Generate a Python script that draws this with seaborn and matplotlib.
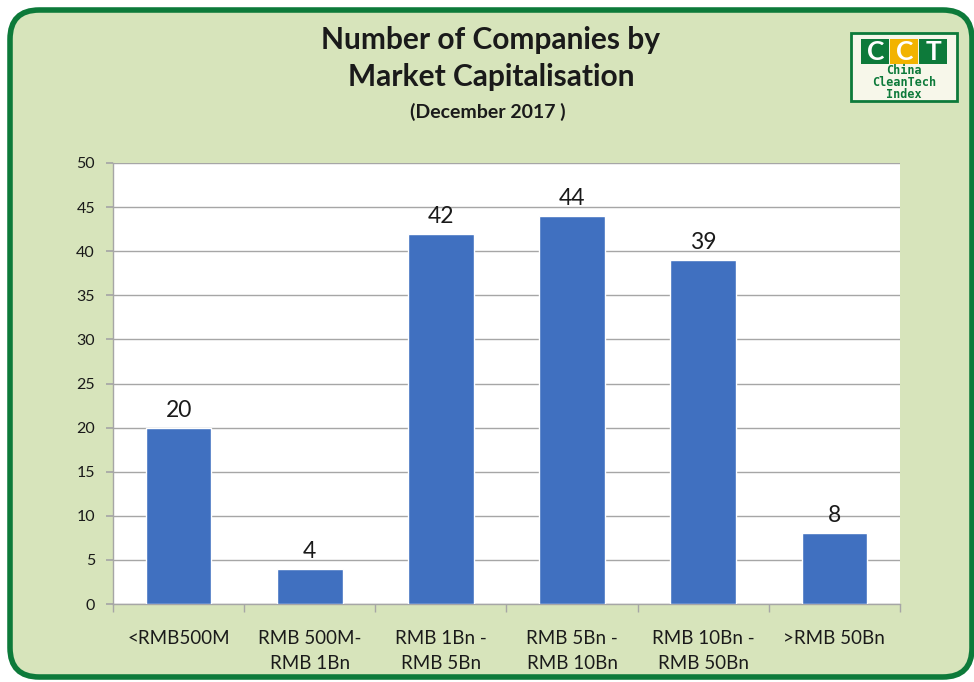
import matplotlib
matplotlib.use("Agg")
import matplotlib.pyplot as plt
import seaborn as sns
import pandas as pd
from matplotlib.patches import FancyBboxPatch, Rectangle

categories = ["<RMB500M", "RMB 500M-\nRMB 1Bn", "RMB 1Bn -\nRMB 5Bn",
              "RMB 5Bn -\nRMB 10Bn", "RMB 10Bn -\nRMB 50Bn", ">RMB 50Bn"]
counts = [20, 4, 42, 44, 39, 8]
yticks = [0, 5, 10, 15, 20, 25, 30, 35, 40, 45, 50]

sns.set_theme(style="white")
plt.rcParams['font.family'] = ['Lato', 'DejaVu Sans']

W, H = 974, 682
fig = plt.figure(figsize=(W / 100, H / 100), dpi=100)
bg = "#d7e4bb"
fig.patch.set_facecolor("white")

# rounded green frame
frame = FancyBboxPatch((10 / W, 5 / H), 962 / W, 667 / H,
                       boxstyle="round,pad=0,rounding_size=0.03",
                       transform=fig.transFigure, facecolor=bg,
                       edgecolor="#0d7a3a", linewidth=4, zorder=-5,
                       mutation_aspect=W / H)
fig.patches.append(frame)

ax = fig.add_axes([113 / W, 1 - 604 / H, (900 - 113) / W, (604 - 163) / H])
ax.set_zorder(2)
df = pd.DataFrame({"cat": categories, "n": counts})
sns.barplot(data=df, x="cat", y="n", color="#4070c0", saturation=1,
            width=0.5, ax=ax, zorder=3)
ax.set_facecolor("white")
ax.set_ylim(0, 50)
ax.set_xlim(-0.5, len(categories) - 0.5)
ax.set_yticks(yticks)
ax.yaxis.grid(True, color="#a6a6a6", linewidth=1, zorder=0)
ax.set_axisbelow(True)
ax.set_xlabel("")
ax.set_ylabel("")
for s in ["top", "right"]:
    ax.spines[s].set_visible(False)
for s in ["left", "bottom"]:
    ax.spines[s].set_color("#a6a6a6")
    ax.spines[s].set_linewidth(1)
ax.tick_params(axis="y", length=5, color="#a6a6a6", labelsize=11.5, labelcolor="#1a1a1a", left=True, pad=8)
ax.tick_params(axis="x", length=0, labelsize=13.5, labelcolor="#1a1a1a", pad=19)
ax.set_xticks(range(len(categories)), categories, fontsize=13.5, linespacing=1.55)
ax.set_xticks([i + 0.5 for i in range(-1, len(categories))], minor=True)
ax.tick_params(axis="x", which="minor", length=6, color="#a6a6a6", bottom=True)

for i, v in enumerate(counts):
    ax.text(i, v + 0.8, str(v), ha="center", va="bottom", fontsize=16.5, color="#1a1a1a")

fig.text(491 / W, 1 - 40 / H, "Number of Companies by", ha="center", va="center",
         fontsize=21.5, fontweight="bold", color="#1a1a1a")
fig.text(491 / W, 1 - 77 / H, "Market Capitalisation", ha="center", va="center",
         fontsize=21.5, fontweight="bold", color="#1a1a1a")
fig.text(488 / W, 1 - 112 / H, "(December 2017 )", ha="center", va="center",
         fontsize=14, fontweight="bold", color="#1a1a1a")

# logo
lx, ly, lw, lh = 851, 33, 106, 68
fig.patches.append(Rectangle((lx / W, 1 - (ly + lh) / H), lw / W, lh / H,
                             transform=fig.transFigure, facecolor="#f7f7ea",
                             edgecolor="#0d7a3a", linewidth=2, zorder=5))
blocks = [("C", "#0d7a3a"), ("C", "#f2b300"), ("T", "#0d7a3a")]
bw = 29
for k, (ch, col) in enumerate(blocks):
    bx = lx + 10 + k * bw
    fig.patches.append(Rectangle((bx / W, 1 - (ly + 31) / H), (bw - 1) / W, 25 / H,
                                 transform=fig.transFigure, facecolor=col,
                                 edgecolor="none", zorder=6))
    fig.text((bx + bw / 2) / W, 1 - (ly + 18.5) / H, ch, ha="center", va="center",
             fontsize=19, fontweight="bold", color="white", zorder=7)
fig.text((lx + lw / 2) / W, 1 - (ly + 50) / H, "China\nCleanTech\nIndex",
         ha="center", va="center", fontsize=8.5, fontweight="bold",
         color="#0d7a3a", linespacing=0.9, family="DejaVu Sans Mono", zorder=7)

fig.savefig("out.png", dpi=100, facecolor=fig.get_facecolor())
